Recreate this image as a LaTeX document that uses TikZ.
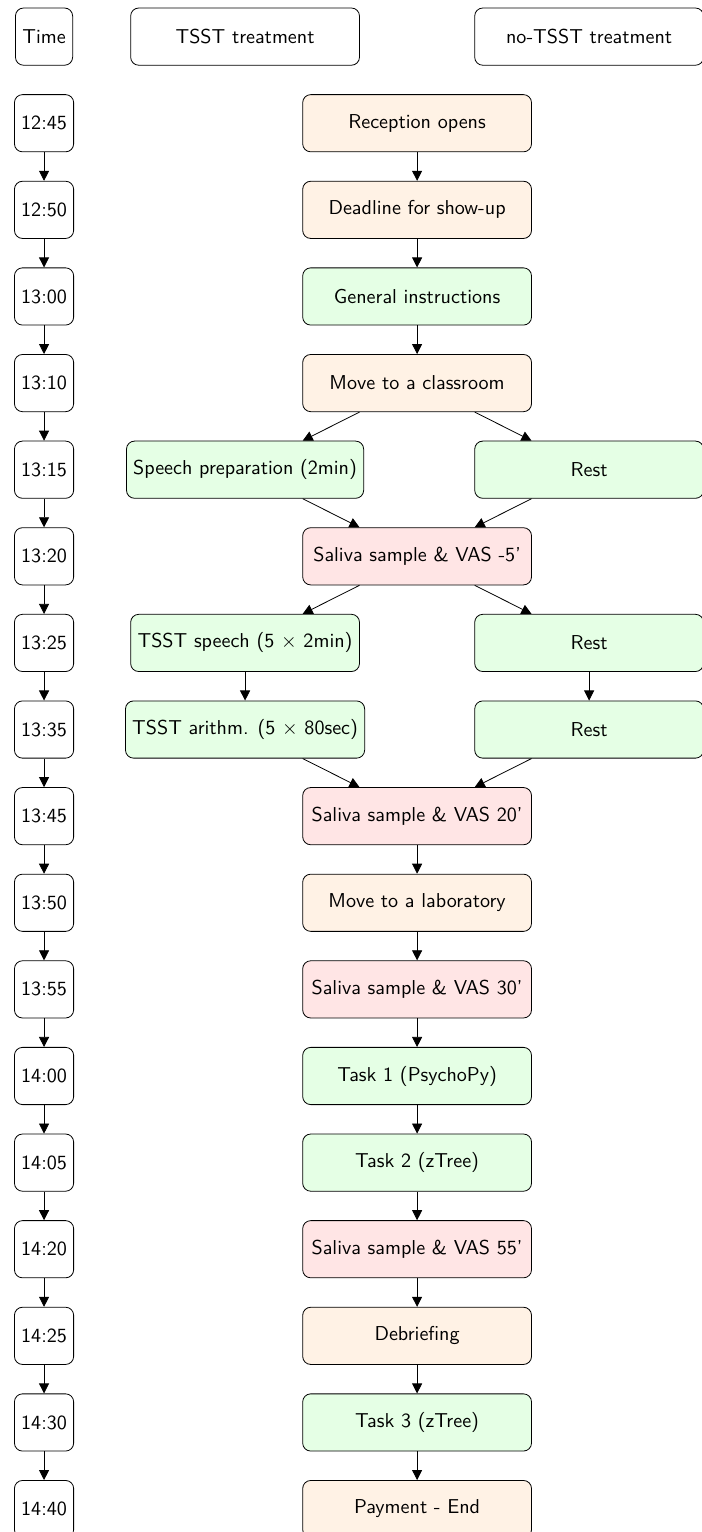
\documentclass[tikz,border=0pt]{standalone}
\usepackage{amsmath}
\usepackage{xcolor}
\usepackage{tikz}
\usetikzlibrary{arrows.meta, positioning, calc}
\tikzstyle{arrow} = [->, >={Triangle[length=5pt, width=5pt]}]

\begin{document}
\begin{tikzpicture}[node distance=0.5cm, font=\sffamily,
		clock/.style={rectangle, draw, rounded corners, minimum width=1cm, minimum height=1cm},
		head/.style={rectangle, draw, rounded corners, minimum width=4cm, minimum height=1cm},
		admin/.style={head, fill=orange!10},
		task/.style={head, fill=green!10},
		saliva/.style={head, fill=red!10}]
		\useasboundingbox (-0.77,0.64) rectangle (11.50,-26.14);
		
		\node (time) [clock] {Time};
		\node (tsst) [head, right=1cm of time] {TSST treatment};
		\node (notsst) [head, right=2cm of tsst] {no-TSST treatment};
		\coordinate (mid) at ($(tsst)!0.5!(notsst)$);
		
		\node (t1245) [clock, below=of time] {12:45};
		\node (t1250) [clock, below=of t1245] {12:50};
		\node (t1300) [clock, below=of t1250] {13:00};
		\node (t1310) [clock, below=of t1300] {13:10};
		\node (t1315) [clock, below=of t1310] {13:15};
		\node (t1320) [clock, below=of t1315] {13:20};
		\node (t1325) [clock, below=of t1320] {13:25};
		\node (t1335) [clock, below=of t1325] {13:35};
		\node (t1345) [clock, below=of t1335] {13:45};
		\node (t1350) [clock, below=of t1345] {13:50};
		\node (t1355) [clock, below=of t1350] {13:55};
		\node (t1400) [clock, below=of t1355] {14:00};
		\node (t1405) [clock, below=of t1400] {14:05};
		\node (t1420) [clock, below=of t1405] {14:20};
		\node (t1425) [clock, below=of t1420] {14:25};
		\node (t1430) [clock, below=of t1425] {14:30};
		\node (t1440) [clock, below=of t1430] {14:40};
		
		\draw[arrow] (t1245) -- (t1250);
		\draw[arrow] (t1250) -- (t1300);
		\draw[arrow] (t1300) -- (t1310);
		\draw[arrow] (t1310) -- (t1315);
		\draw[arrow] (t1315) -- (t1320);
		\draw[arrow] (t1320) -- (t1325);
		\draw[arrow] (t1325) -- (t1335);
		\draw[arrow] (t1335) -- (t1345);
		\draw[arrow] (t1345) -- (t1350);
		\draw[arrow] (t1350) -- (t1355);
		\draw[arrow] (t1355) -- (t1400);
		\draw[arrow] (t1400) -- (t1405);
		\draw[arrow] (t1405) -- (t1420);
		\draw[arrow] (t1420) -- (t1425);
		\draw[arrow] (t1425) -- (t1430);
		\draw[arrow] (t1430) -- (t1440);
		
		\node (reception) [admin] at (t1245 -| mid) {Reception opens};
		\node (showup) [admin] at (t1250 -| mid) {Deadline for show-up};
		\node (general) [task] at (t1300 -| mid) {General instructions};
		\node (classroom) [admin] at (t1310 -| mid) {Move to a classroom};
		\node (prep) [task] at (t1315 -| tsst) {Speech preparation (2min)};
		\node (rest1) [task] at (t1315 -| notsst) {Rest};
		\node (vas5) [saliva] at (t1320 -| mid) {Saliva sample \& VAS -5'};
		\node (speech) [task] at (t1325 -| tsst) {TSST speech (5 $\times$ 2min)};
		\node (rest2) [task] at (t1325 -| notsst) {Rest};
		\node (arith) [task] at (t1335 -| tsst) {TSST arithm. (5 $\times$ 80sec)};
		\node (rest3) [task] at (t1335 -| notsst) {Rest};
		\node (vas20) [saliva] at (t1345 -| mid) {Saliva sample \& VAS 20'};
		\node (lab) [admin] at (t1350 -| mid) {Move to a laboratory};
		\node (vas30) [saliva] at (t1355 -| mid) {Saliva sample \& VAS 30'};
		\node (task1) [task] at (t1400 -| mid) {Task 1 (PsychoPy)};
		\node (task2) [task] at (t1405 -| mid) {Task 2 (zTree)};
		\node (vas55) [saliva] at (t1420 -| mid) {Saliva sample \& VAS 55'};
		\node (debrief) [admin] at (t1425 -| mid) {Debriefing};
		\node (task3) [task] at (t1430 -| mid) {Task 3 (zTree)};
		\node (payment) [admin] at (t1440 -| mid) {Payment - End};
		
		\draw[arrow] (reception) -- (showup);
		\draw[arrow] (showup) -- (general);
		\draw[arrow] (general) -- (classroom);
		\draw[arrow] (classroom) -- (prep);
		\draw[arrow] (classroom) -- (rest1);
		\draw[arrow] (prep) -- (vas5);
		\draw[arrow] (rest1) -- (vas5);
		\draw[arrow] (vas5) -- (speech);
		\draw[arrow] (vas5) -- (rest2);
		\draw[arrow] (speech) -- (arith);
		\draw[arrow] (rest2) -- (rest3);
		\draw[arrow] (arith) -- (vas20);
		\draw[arrow] (rest3) -- (vas20);
		\draw[arrow] (vas20) -- (lab);
		\draw[arrow] (lab) -- (vas30);
		\draw[arrow] (vas30) -- (task1);
		\draw[arrow] (task1) -- (task2);
		\draw[arrow] (task2) -- (vas55);
		\draw[arrow] (vas55) -- (debrief);
		\draw[arrow] (debrief) -- (task3);
		\draw[arrow] (task3) -- (payment);
	\end{tikzpicture}
\end{document}
